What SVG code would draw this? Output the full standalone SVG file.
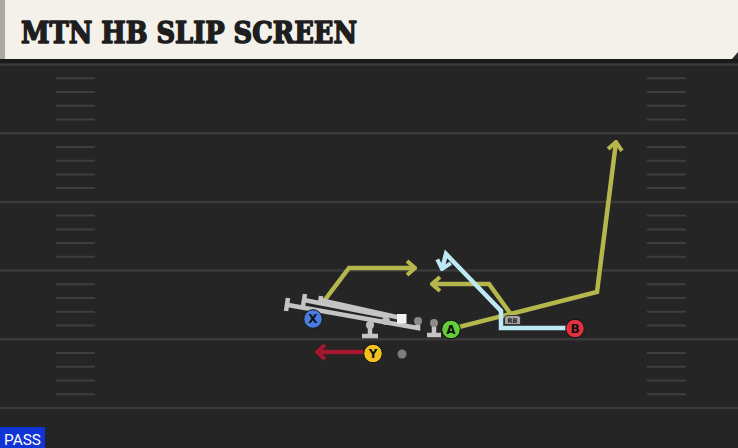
<svg xmlns="http://www.w3.org/2000/svg" width="738" height="448" viewBox="0 0 738 448">
<defs>
<style>
.yard{stroke:#3a3a3a;stroke-width:2.5}
.hash{stroke:#3e3e3e;stroke-width:2}
.route{fill:none;stroke-width:4.5;stroke-linejoin:miter;stroke-linecap:butt}
.yel{stroke:#b5b64c}
.blue{stroke:#bde9f2}
.red{stroke:#a3172f}
.blk{fill:none;stroke:#c4c4c4;stroke-width:4.5;stroke-linecap:butt}
.lbl{font-family:"DejaVu Sans","Liberation Sans",sans-serif;font-weight:bold;font-size:12px;fill:#111;text-anchor:middle}
.pc{stroke:#111;stroke-width:1}
</style>
<marker id="ay" markerUnits="userSpaceOnUse" viewBox="-12 -9 14 18" markerWidth="14" markerHeight="18" refX="0" refY="0" orient="auto">
<path d="M-8,-7 L0,0 L-8,7" fill="none" stroke="#b5b64c" stroke-width="4"/>
</marker>
<marker id="ab" markerUnits="userSpaceOnUse" viewBox="-12 -9 14 18" markerWidth="14" markerHeight="18" refX="0" refY="0" orient="auto">
<path d="M-8,-7 L0,0 L-8,7" fill="none" stroke="#bde9f2" stroke-width="4"/>
</marker>
<marker id="ar" markerUnits="userSpaceOnUse" viewBox="-12 -9 14 18" markerWidth="14" markerHeight="18" refX="0" refY="0" orient="auto">
<path d="M-8,-7 L0,0 L-8,7" fill="none" stroke="#a3172f" stroke-width="4"/>
</marker>
</defs>

<g id="field">
<rect x="0" y="0" width="738" height="448" fill="#252525"/>
<rect x="0" y="59" width="738" height="5" fill="#1a1a1a"/>
<line class="yard" x1="0" y1="64.5" x2="738" y2="64.5"/>
<line class="yard" x1="0" y1="133.2" x2="738" y2="133.2"/>
<line class="yard" x1="0" y1="201.9" x2="738" y2="201.9"/>
<line class="yard" x1="0" y1="270.6" x2="738" y2="270.6"/>
<line class="yard" x1="0" y1="339.3" x2="738" y2="339.3"/>
<line class="yard" x1="0" y1="408" x2="738" y2="408"/>
<g id="hashes">
<path class="hash" d="M56,78.2H95M56,92H95M56,105.7H95M56,119.4H95M56,146.9H95M56,160.7H95M56,174.4H95M56,188.1H95M56,215.6H95M56,229.4H95M56,243.1H95M56,256.8H95M56,284.3H95M56,298.1H95M56,311.8H95M56,325.5H95M56,353H95M56,366.8H95M56,380.5H95M56,394.2H95"/>
<path class="hash" d="M647,78.2H686M647,92H686M647,105.7H686M647,119.4H686M647,146.9H686M647,160.7H686M647,174.4H686M647,188.1H686M647,215.6H686M647,229.4H686M647,243.1H686M647,256.8H686M647,284.3H686M647,298.1H686M647,311.8H686M647,325.5H686M647,353H686M647,366.8H686M647,380.5H686M647,394.2H686"/>
</g>
</g>

<g id="title">
<rect x="0" y="0" width="738" height="59" fill="#f4f1ea"/>
<rect x="0" y="0" width="5" height="59" fill="#a9a9a6"/>
<polygon points="732,59 738,52 738,59" fill="#2a2a2a"/>
<text x="21" y="43" font-family="'DejaVu Serif','Liberation Serif',serif" font-weight="bold" font-size="29" fill="#1e1e1e" stroke="#1e1e1e" stroke-width="1.6" stroke-linejoin="round" textLength="336" lengthAdjust="spacingAndGlyphs">MTN HB SLIP SCREEN</text>
</g>

<g id="connectors">
<polyline class="route yel" points="321,305 349,268 415,268" marker-end="url(#ay)"/>
<polyline class="route yel" points="451,329 597,292 616,142" marker-end="url(#ay)"/>
<polyline class="route yel" points="510,313 489,284 432,284" marker-end="url(#ay)"/>
<polyline class="route blue" points="567,328 501,328 501,311 446,254 442,269" marker-end="url(#ab)"/>
<polyline class="route red" points="364,352 317,352" marker-end="url(#ar)"/>
</g>

<g id="blocks">
<polyline class="blk" points="418,321 418,328 288,305"/>
<line class="blk" x1="288" y1="298" x2="286" y2="311"/>
<polyline class="blk" points="386,321 386,316 304,300"/>
<line class="blk" x1="305" y1="294" x2="303" y2="306"/>
<polyline class="blk" points="401,318 320,300"/>
<line class="blk" x1="321" y1="296" x2="320" y2="304"/>
<line class="blk" x1="370" y1="325" x2="370" y2="336"/>
<line class="blk" x1="362" y1="336" x2="378" y2="336"/>
<line class="blk" x1="434" y1="323" x2="434" y2="334"/>
<line class="blk" x1="427" y1="335" x2="441" y2="335"/>
</g>

<g id="linemen">
<circle cx="370" cy="325" r="4" fill="#bdbdbd"/>
<circle cx="386" cy="321" r="4" fill="#bdbdbd"/>
<circle cx="418" cy="321" r="4" fill="#8a8a8a"/>
<circle cx="434" cy="323" r="4" fill="#8a8a8a"/>
</g>
<g id="ball"><rect x="397" y="314" width="9.5" height="9.5" fill="#f2f2f2"/></g>
<g id="qb"><circle cx="402" cy="354" r="4.5" fill="#7d7d7d"/></g>

<g id="rb">
<path d="M504.5,324.5 V318 Q504.5,315.5 508,315.5 H518 Q520.5,315.5 520.5,318 V324.5 Z" fill="#a3a3a3" stroke="#222" stroke-width="0.8"/>
<text x="512.5" y="322.8" font-family="'DejaVu Sans',sans-serif" font-size="6.5" font-weight="bold" fill="#222" text-anchor="middle">RB</text>
</g>

<g id="X"><circle class="pc" cx="313" cy="319" r="9.3" fill="#4a7be0"/><text class="lbl" x="313" y="323.3">X</text></g>
<g id="Y"><circle class="pc" cx="373" cy="353.5" r="9.3" fill="#f1c21f"/><text class="lbl" x="373" y="357.8">Y</text></g>
<g id="A"><circle class="pc" cx="451" cy="329.5" r="9.3" fill="#62cc3a"/><text class="lbl" x="451" y="333.8">A</text></g>
<g id="B"><circle class="pc" cx="575" cy="328.5" r="9.3" fill="#e2313f"/><text class="lbl" x="575" y="332.8">B</text></g>

<g id="pass">
<rect x="0" y="427" width="45" height="21" fill="#1034d6"/>
<text x="4" y="444.5" font-family="'Roboto','Liberation Sans',sans-serif" font-size="14" fill="#ffffff" textLength="37" lengthAdjust="spacingAndGlyphs">PASS</text>
</g>
</svg>
